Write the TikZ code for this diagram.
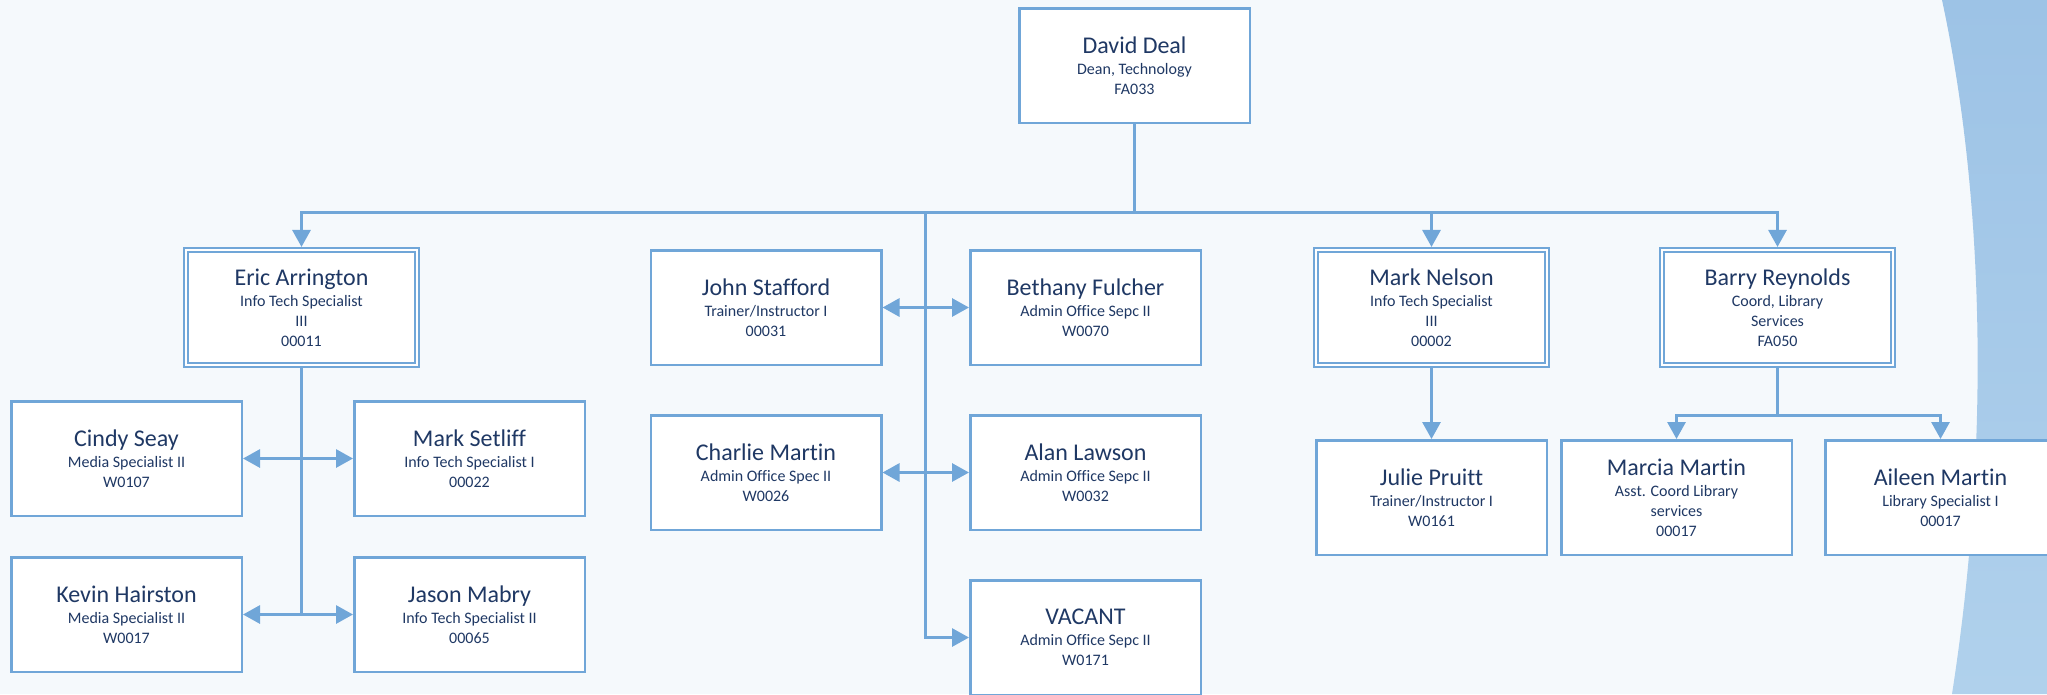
\documentclass[tikz,border=0pt]{standalone}
\usepackage{fontspec}
\setmainfont[Ligatures={NoCommon}]{Carlito}
\usetikzlibrary{arrows.meta}
\definecolor{boxblue}{RGB}{112,166,216}
\definecolor{navy}{RGB}{31,56,100}
\definecolor{bgcol}{RGB}{245,249,252}
\definecolor{bandtop}{RGB}{157,195,230}
\definecolor{bandbot}{RGB}{176,209,236}
\newcommand{\pname}[1]{{\fontsize{24}{24}\selectfont #1}\\[1pt]}
\tikzset{
  card/.style={draw=boxblue, line width=2.5pt, fill=white, minimum width=230.5pt,
    minimum height=114.5pt, align=center, text=navy, inner sep=0pt,
    font=\fontsize{16}{20}\selectfont},
  dcard/.style={card, line width=1.8pt, double=white, double distance=2.5pt,
    minimum width=231pt, minimum height=115pt, outer sep=3.05pt},
  link/.style={draw=boxblue, line width=3pt},
  arr/.style={link, -{Triangle[length=17pt,width=18pt]}},
  barr/.style={link, {Triangle[length=17pt,width=18pt]}-{Triangle[length=17pt,width=18pt]}}
}
\begin{document}
\begin{tikzpicture}[x=1pt,y=-1pt]
\fill[bgcol] (0,0) rectangle (2047,694);
\useasboundingbox (0,0) rectangle (2047,694);
\shade[top color=bandtop, bottom color=bandbot]
  (1942,0) .. controls (1985,200) and (1990,450) .. (1952,694) -- (2047,694) -- (2047,0) -- cycle;

\node[card] (david) at (1134.5,65.5) {\pname{David Deal}Dean, Technology\\FA033};

\node[dcard] (eric) at (301.5,307.5) {\pname{Eric Arrington}Info Tech Specialist\\III\\00011};
\node[card] (cindy) at (126.5,458.5) {\pname{Cindy Seay}Media Specialist II\\W0107};
\node[card] (setliff) at (469.5,458.5) {\pname{Mark Setliff}Info Tech Specialist I\\00022};
\node[card] (kevin) at (126.5,614.5) {\pname{Kevin Hairston}Media Specialist II\\W0017};
\node[card] (jason) at (469.5,614.5) {\pname{Jason Mabry}Info Tech Specialist II\\00065};

\node[card] (john) at (766,307.5) {\pname{John Stafford}Trainer/Instructor I\\00031};
\node[card] (bethany) at (1085.5,307.5) {\pname{Bethany Fulcher}Admin Office Sepc II\\W0070};
\node[card] (charlie) at (766,472.5) {\pname{Charlie Martin}Admin Office Spec II\\W0026};
\node[card] (alan) at (1085.5,472.5) {\pname{Alan Lawson}Admin Office Sepc II\\W0032};
\node[card] (vacant) at (1085.5,637.5) {\pname{VACANT}Admin Office Sepc II\\W0171};

\node[dcard] (nelson) at (1431.5,307.5) {\pname{Mark Nelson}Info Tech Specialist\\III\\00002};
\node[dcard] (barry) at (1777.5,307.5) {\pname{Barry Reynolds}Coord, Library\\Services\\FA050};
\node[card] (julie) at (1431.5,497.5) {\pname{Julie Pruitt}Trainer/Instructor I\\W0161};
\node[card] (marcia) at (1676.5,497.5) {\pname{Marcia Martin}Asst. Coord Library\\services\\00017};
\node[card] (aileen) at (1940.5,497.5) {\pname{Aileen Martin}Library Specialist I\\00017};

\coordinate (bus) at (1134.5,212);
\coordinate (midtop) at (925,212);
\coordinate (lib) at (1777.5,415);

\draw[link] (david.south) -- (bus);
\draw[arr] (bus) -| (eric.north);
\draw[arr] (bus) -| (barry.north);
\draw[arr] (nelson.north |- bus) -- (nelson.north);
\draw[arr] (midtop) |- (vacant.west);
\draw[barr] (john.east) -- (bethany.west);
\draw[barr] (charlie.east) -- (alan.west);

\draw[link] (eric.south) -- (eric.south |- kevin.east);
\draw[barr] (cindy.east) -- (setliff.west);
\draw[barr] (kevin.east) -- (jason.west);

\draw[arr] (nelson.south) -- (julie.north);
\draw[link] (barry.south) -- (lib);
\draw[arr] (lib) -| (marcia.north);
\draw[arr] (lib) -| (aileen.north);
\end{tikzpicture}
\end{document}
